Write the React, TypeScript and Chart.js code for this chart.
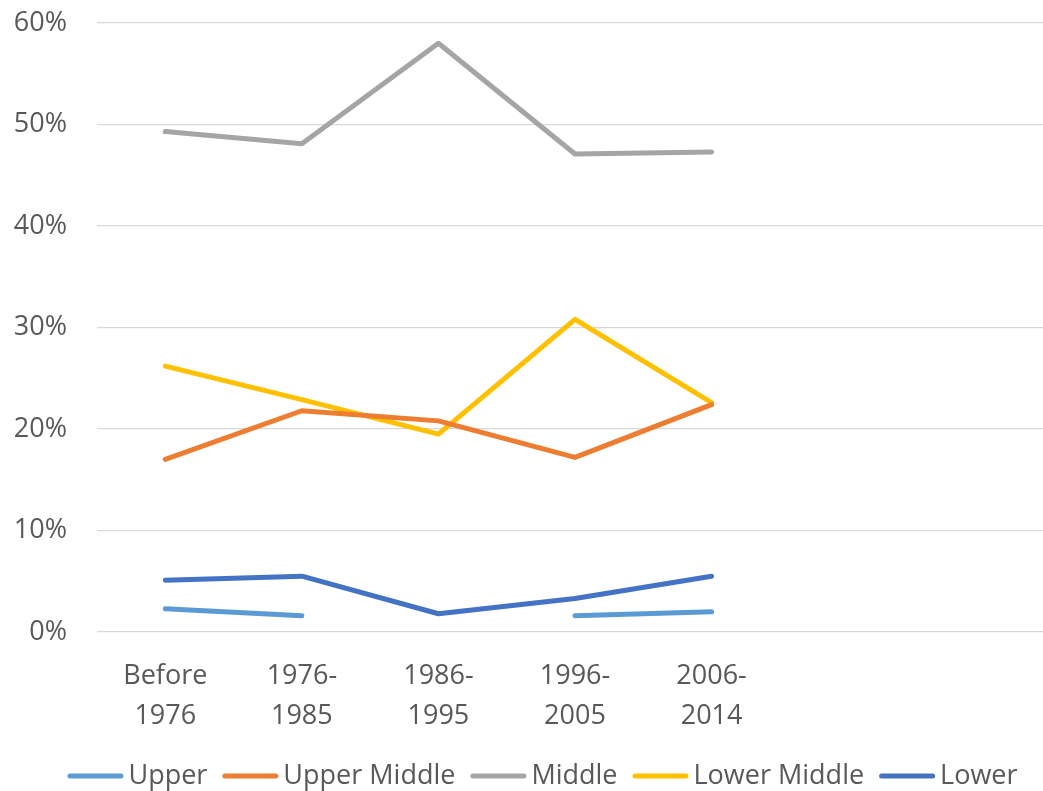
import React, { useEffect, useRef } from "react";
import { Chart, registerables } from "chart.js";

Chart.register(...registerables);

const categories: (string | string[])[] = [
  ["Before", "1976"],
  ["1976-", "1985"],
  ["1986-", "1995"],
  ["1996-", "2005"],
  ["2006-", "2014"],
  "",
  "",
];

const upper: (number | null)[] = [2.3, 1.6, null, 1.6, 2.0];
const upperMiddle: number[] = [17.0, 21.8, 20.8, 17.2, 22.4];
const middle: number[] = [49.3, 48.1, 58.0, 47.1, 47.3];
const lowerMiddle: number[] = [26.2, 22.9, 19.5, 30.8, 22.6];
const lower: number[] = [5.1, 5.5, 1.8, 3.3, 5.5];

const seriesNames = ["Upper", "Upper Middle", "Middle", "Lower Middle", "Lower"];
const seriesColors = ["#5B9BD5", "#ED7D31", "#A5A5A5", "#FFC000", "#4472C4"];
const yTicks = [0, 10, 20, 30, 40, 50, 60];

const FONT = '"Open Sans", sans-serif';
const TEXT = "#595959";

const legendPlugin = {
  id: "customLegend",
  afterDraw(chart: any) {
    const ctx = chart.ctx;
    ctx.save();
    ctx.font = `27px ${FONT}`;
    const lineW = 56;
    const gapText = 5;
    const gapItem = 15;
    const ds = chart.data.datasets;
    const widths = ds.map((d: any) => lineW + gapText + ctx.measureText(d.label).width);
    const total = widths.reduce((a: number, b: number) => a + b, 0) + gapItem * (ds.length - 1);
    let x = 542.5 - total / 2;
    const y = 776;
    ds.forEach((d: any, i: number) => {
      ctx.strokeStyle = d.borderColor;
      ctx.lineWidth = 5;
      ctx.lineCap = "round";
      ctx.beginPath();
      ctx.moveTo(x + 2.5, y);
      ctx.lineTo(x + lineW - 2.5, y);
      ctx.stroke();
      ctx.fillStyle = TEXT;
      ctx.textBaseline = "middle";
      ctx.textAlign = "left";
      ctx.fillText(d.label, x + lineW + gapText, y);
      x += widths[i] + gapItem;
    });
    ctx.restore();
  },
};

export default function App() {
  const ref = useRef<HTMLCanvasElement | null>(null);
  useEffect(() => {
    if (!ref.current) return;
    const values = [upper, upperMiddle, middle, lowerMiddle, lower];
    const chart = new Chart(ref.current, {
      type: "line",
      data: {
        labels: categories as any,
        datasets: values.map((v, i) => ({
          label: seriesNames[i],
          data: v,
          borderColor: seriesColors[i],
          backgroundColor: seriesColors[i],
          borderWidth: 5,
          pointRadius: 0,
          pointHoverRadius: 0,
          tension: 0,
          spanGaps: false,
          borderCapStyle: "round",
          borderJoinStyle: "round",
        })),
      },
      options: {
        responsive: false,
        animation: false,
        layout: { padding: { top: 23, bottom: 0, left: 0, right: 0 } },
        plugins: {
          legend: { display: false },
          tooltip: { enabled: false },
        },
        scales: {
          x: {
            offset: true,
            grid: { display: false, drawTicks: false },
            border: { display: false },
            ticks: {
              color: TEXT,
              font: { family: FONT, size: 27, lineHeight: 1.5 },
              padding: 24,
              maxRotation: 0,
              autoSkip: false,
            },
            afterFit(scale: any) {
              scale.height = 159;
            },
          },
          y: {
            min: 0,
            max: 60,
            grid: { color: "#D9D9D9", lineWidth: 1.3, drawTicks: false },
            border: { display: false },
            afterBuildTicks(scale: any) {
              scale.ticks = yTicks.map((v) => ({ value: v }));
            },
            ticks: {
              color: TEXT,
              font: { family: FONT, size: 27 },
              padding: 30,
              callback: (v: any) => `${v}%`,
            },
            afterFit(scale: any) {
              scale.width = 97;
              scale.paddingTop = 0;
              scale.paddingBottom = 0;
            },
          },
        },
      },
      plugins: [legendPlugin],
    });
    return () => chart.destroy();
  }, []);
  return (
    <div
      style={{
        position: "fixed",
        left: 0,
        top: 0,
        width: 1043,
        height: 791,
        overflow: "hidden",
        background: "#fff",
      }}
    >
      <canvas ref={ref} width={1053} height={791} style={{ display: "block" }} />
    </div>
  );
}
